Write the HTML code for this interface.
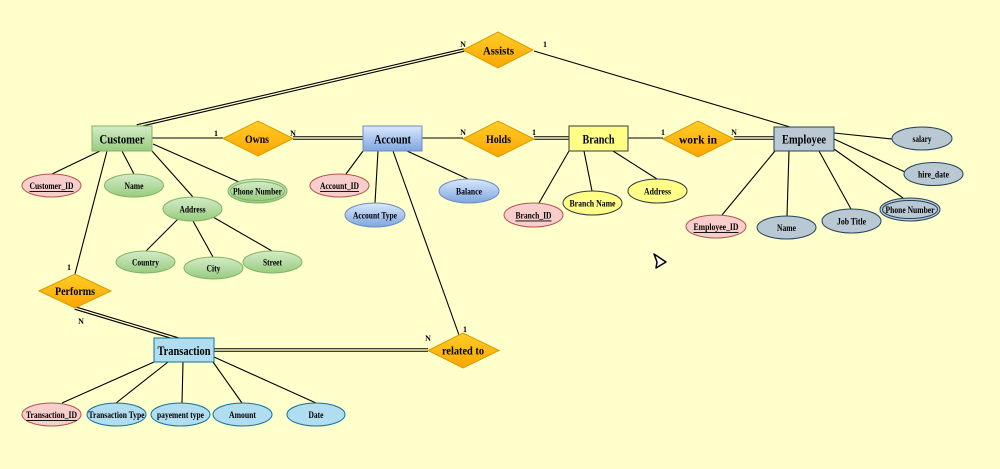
<!DOCTYPE html>
<html><head><meta charset="utf-8"><style>
html,body{margin:0;padding:0;background:#FFFFCC;}
svg{display:block;}
text{font-family:"Liberation Serif",serif;font-weight:bold;fill:#000;}
</style></head><body>
<svg width="1000" height="469" viewBox="0 0 1000 469" xmlns="http://www.w3.org/2000/svg">
<defs>
<linearGradient id="gG" x1="0" y1="0" x2="0" y2="1"><stop offset="0" stop-color="#d5ecc8"/><stop offset="1" stop-color="#97cc7e"/></linearGradient>
<linearGradient id="gB" x1="0" y1="0" x2="0" y2="1"><stop offset="0" stop-color="#dae8fc"/><stop offset="1" stop-color="#7ea6e0"/></linearGradient>
<linearGradient id="gO" x1="0" y1="0" x2="0" y2="1"><stop offset="0" stop-color="#ffcd28"/><stop offset="1" stop-color="#ffa500"/></linearGradient>
</defs>
<rect width="1000" height="469" fill="#FFFFCC"/>

<!-- connectors single -->
<g stroke="#000" stroke-width="1.1" fill="none">
<line x1="534" y1="51" x2="790" y2="127"/>
<line x1="152" y1="138" x2="223" y2="138"/>
<line x1="422" y1="138" x2="463" y2="138"/>
<line x1="628" y1="138" x2="663" y2="138"/>
<!-- customer attrs -->
<line x1="100" y1="151" x2="52" y2="174"/>
<line x1="122" y1="151" x2="134" y2="174"/>
<line x1="152" y1="151" x2="193" y2="197"/>
<line x1="153" y1="144" x2="239" y2="182"/>
<line x1="107" y1="151" x2="75" y2="274"/>
<line x1="178" y1="219" x2="146" y2="251"/>
<line x1="193" y1="221" x2="213" y2="257"/>
<line x1="213" y1="217" x2="272" y2="251"/>
<!-- account attrs -->
<line x1="363" y1="151" x2="346" y2="174"/>
<line x1="378" y1="151" x2="375" y2="203"/>
<line x1="407" y1="151" x2="468" y2="179"/>
<line x1="393" y1="151" x2="459" y2="335"/>
<!-- branch attrs -->
<line x1="569" y1="151" x2="539" y2="203"/>
<line x1="584" y1="151" x2="592" y2="191"/>
<line x1="613" y1="151" x2="657" y2="179"/>
<!-- employee attrs -->
<line x1="834" y1="133" x2="892" y2="139"/>
<line x1="834" y1="139" x2="905" y2="172"/>
<line x1="834" y1="149" x2="903" y2="198"/>
<line x1="819" y1="151" x2="851" y2="209"/>
<line x1="789" y1="151" x2="787" y2="216"/>
<line x1="775" y1="151" x2="722" y2="215"/>
<!-- transaction attrs -->
<line x1="154" y1="362" x2="62" y2="403"/>
<line x1="168" y1="362" x2="116" y2="403"/>
<line x1="183" y1="362" x2="182" y2="403"/>
<line x1="213" y1="362" x2="242" y2="403"/>
<line x1="214" y1="357" x2="316" y2="403"/>
</g>

<!-- double connectors -->
<g fill="none">
<g stroke="#000" stroke-width="3.6">
<line x1="464" y1="50" x2="137" y2="126"/>
<line x1="293" y1="138" x2="363" y2="138"/>
<line x1="534" y1="138" x2="569" y2="138"/>
<line x1="734" y1="138" x2="774" y2="138"/>
<line x1="75" y1="308" x2="178" y2="339"/>
<line x1="214" y1="350" x2="428" y2="350"/>
</g>
<g stroke="#FFFFCC" stroke-width="1.4">
<line x1="464" y1="50" x2="137" y2="126"/>
<line x1="293" y1="138" x2="363" y2="138"/>
<line x1="534" y1="138" x2="569" y2="138"/>
<line x1="734" y1="138" x2="774" y2="138"/>
<line x1="75" y1="308" x2="178" y2="339"/>
<line x1="214" y1="350" x2="428" y2="350"/>
</g>
</g>

<!-- entities -->
<rect x="92" y="126" width="60" height="25" fill="url(#gG)" stroke="#82b366" stroke-width="1"/>
<rect x="363" y="126" width="59" height="25" fill="url(#gB)" stroke="#6c8ebf" stroke-width="1"/>
<rect x="569" y="126" width="59" height="25" fill="#ffff88" stroke="#36393d" stroke-width="1"/>
<rect x="774" y="127" width="60" height="24" fill="#bac8d3" stroke="#23445d" stroke-width="1"/>
<rect x="154" y="338" width="60" height="24" fill="#b1ddf0" stroke="#10739e" stroke-width="1"/>
<g font-size="13" text-anchor="middle" dominant-baseline="central">
<text x="122" y="139" textLength="45" lengthAdjust="spacingAndGlyphs">Customer</text>
<text x="392.5" y="139" textLength="37" lengthAdjust="spacingAndGlyphs">Account</text>
<text x="598.5" y="139" textLength="32" lengthAdjust="spacingAndGlyphs">Branch</text>
<text x="804" y="139" textLength="44" lengthAdjust="spacingAndGlyphs">Employee</text>
<text x="184" y="350.5" textLength="53" lengthAdjust="spacingAndGlyphs">Transaction</text>
</g>

<!-- relationships -->
<g fill="url(#gO)" stroke="#d79b00" stroke-width="1">
<polygon points="463,50 498,32 533,50 498,68"/>
<polygon points="223,138.5 258,121 293,138.5 258,156"/>
<polygon points="463,139 498,121 534,139 498,157"/>
<polygon points="663,139 698,121 734,139 698,157"/>
<polygon points="39,291 75,274 111,291 75,308"/>
<polygon points="428,350.5 463,333 499,350.5 463,368"/>
</g>
<g font-size="12" text-anchor="middle" dominant-baseline="central">
<text x="498.5" y="50.5" textLength="31" lengthAdjust="spacingAndGlyphs">Assists</text>
<text x="257" y="139" textLength="24" lengthAdjust="spacingAndGlyphs">Owns</text>
<text x="498.5" y="139" textLength="25" lengthAdjust="spacingAndGlyphs">Holds</text>
<text x="698" y="139.5" textLength="38" lengthAdjust="spacingAndGlyphs">work in</text>
<text x="75" y="291" textLength="40" lengthAdjust="spacingAndGlyphs">Performs</text>
<text x="463" y="350.5" textLength="42" lengthAdjust="spacingAndGlyphs">related to</text>
</g>

<!-- cardinalities -->
<g font-size="8" text-anchor="middle">
<text x="463" y="47">N</text>
<text x="545" y="47">1</text>
<text x="216" y="136">1</text>
<text x="293" y="136">N</text>
<text x="463" y="135">N</text>
<text x="534" y="135">1</text>
<text x="663" y="135">1</text>
<text x="734" y="135">N</text>
<text x="69" y="270">1</text>
<text x="81" y="324">N</text>
<text x="428" y="341">N</text>
<text x="465" y="332">1</text>
</g>

<!-- attributes: customer (green) -->
<g stroke="#82b366" stroke-width="1" fill="url(#gG)">
<ellipse cx="134" cy="185.5" rx="29.5" ry="11.5"/>
<ellipse cx="257.5" cy="191" rx="29.5" ry="12"/>
<ellipse cx="257.5" cy="191" rx="27" ry="9.5"/>
<ellipse cx="192.5" cy="209" rx="29.5" ry="12"/>
<ellipse cx="145.5" cy="262" rx="29.5" ry="11"/>
<ellipse cx="213.5" cy="268" rx="29.5" ry="11"/>
<ellipse cx="272.5" cy="262" rx="29.5" ry="11"/>
</g>
<!-- pink keys -->
<g stroke="#b85450" stroke-width="1" fill="#f8cecc">
<ellipse cx="51.5" cy="185.5" rx="29.5" ry="11.5"/>
<ellipse cx="339.5" cy="185.5" rx="29.5" ry="11.5"/>
<ellipse cx="533.5" cy="215" rx="29.5" ry="12"/>
<ellipse cx="716" cy="226.5" rx="30" ry="11.5"/>
<ellipse cx="51.5" cy="414.5" rx="29.5" ry="11.5"/>
</g>
<!-- account blue -->
<g stroke="#6c8ebf" stroke-width="1" fill="url(#gB)">
<ellipse cx="375" cy="215" rx="30" ry="12"/>
<ellipse cx="469" cy="191" rx="30" ry="12"/>
</g>
<!-- branch yellow -->
<g stroke="#36393d" stroke-width="1" fill="#ffff88">
<ellipse cx="592.5" cy="203" rx="29.5" ry="12"/>
<ellipse cx="657.5" cy="191" rx="29.5" ry="12"/>
</g>
<!-- employee -->
<g stroke="#23445d" stroke-width="1" fill="#bac8d3">
<ellipse cx="922" cy="138.5" rx="30" ry="11.5"/>
<ellipse cx="933.5" cy="174" rx="29.5" ry="11.5"/>
<ellipse cx="910" cy="209.5" rx="30" ry="11.5"/>
<ellipse cx="910" cy="209.5" rx="27.5" ry="9"/>
<ellipse cx="851.5" cy="221" rx="29.5" ry="12"/>
<ellipse cx="786.5" cy="227.5" rx="29.5" ry="11.5"/>
</g>
<!-- transaction -->
<g stroke="#10739e" stroke-width="1" fill="#b1ddf0">
<ellipse cx="116.5" cy="414.5" rx="29.5" ry="11.5"/>
<ellipse cx="180.5" cy="414.5" rx="29.5" ry="11.5"/>
<ellipse cx="242.5" cy="414.5" rx="29.5" ry="11.5"/>
<ellipse cx="316" cy="414.5" rx="29" ry="11.5"/>
</g>

<g font-size="9" text-anchor="middle" dominant-baseline="central">
<text x="51.5" y="186" textLength="44" lengthAdjust="spacingAndGlyphs" text-decoration="underline">Customer_ID</text>
<text x="134" y="186" textLength="19" lengthAdjust="spacingAndGlyphs">Name</text>
<text x="257.5" y="191.5" textLength="49" lengthAdjust="spacingAndGlyphs">Phone Number</text>
<text x="192.5" y="209.5" textLength="26" lengthAdjust="spacingAndGlyphs">Address</text>
<text x="145.5" y="262.5" textLength="27" lengthAdjust="spacingAndGlyphs">Country</text>
<text x="213.5" y="268.5" textLength="14" lengthAdjust="spacingAndGlyphs">City</text>
<text x="272.5" y="262.5" textLength="19" lengthAdjust="spacingAndGlyphs">Street</text>
<text x="339.5" y="186" textLength="39" lengthAdjust="spacingAndGlyphs" text-decoration="underline">Account_ID</text>
<text x="375" y="215.5" textLength="44" lengthAdjust="spacingAndGlyphs">Account Type</text>
<text x="469" y="191.5" textLength="26" lengthAdjust="spacingAndGlyphs">Balance</text>
<text x="533.5" y="215.5" textLength="36" lengthAdjust="spacingAndGlyphs" text-decoration="underline">Branch_ID</text>
<text x="592.5" y="203.5" textLength="46" lengthAdjust="spacingAndGlyphs">Branch Name</text>
<text x="657.5" y="191.5" textLength="27" lengthAdjust="spacingAndGlyphs">Address</text>
<text x="922" y="139" textLength="19" lengthAdjust="spacingAndGlyphs">salary</text>
<text x="933.5" y="174.5" textLength="31" lengthAdjust="spacingAndGlyphs">hire_date</text>
<text x="910" y="210" textLength="49" lengthAdjust="spacingAndGlyphs">Phone Number</text>
<text x="851.5" y="221.5" textLength="29" lengthAdjust="spacingAndGlyphs">Job Title</text>
<text x="786.5" y="228" textLength="19" lengthAdjust="spacingAndGlyphs">Name</text>
<text x="716" y="227" textLength="45" lengthAdjust="spacingAndGlyphs" text-decoration="underline">Employee_ID</text>
<text x="51.5" y="415" textLength="51" lengthAdjust="spacingAndGlyphs" text-decoration="underline">Transaction_ID</text>
<text x="116.5" y="415" textLength="56" lengthAdjust="spacingAndGlyphs">Transaction Type</text>
<text x="180.5" y="415" textLength="47" lengthAdjust="spacingAndGlyphs">payement type</text>
<text x="242.5" y="415" textLength="27" lengthAdjust="spacingAndGlyphs">Amount</text>
<text x="316" y="415" textLength="15" lengthAdjust="spacingAndGlyphs">Date</text>
</g>

<!-- cursor -->
<path d="M654,254 L666,262 L656,268 L657,262 Z" fill="#fff" stroke="#000" stroke-width="1.5" stroke-linejoin="round"/>
</svg>
</body></html>
